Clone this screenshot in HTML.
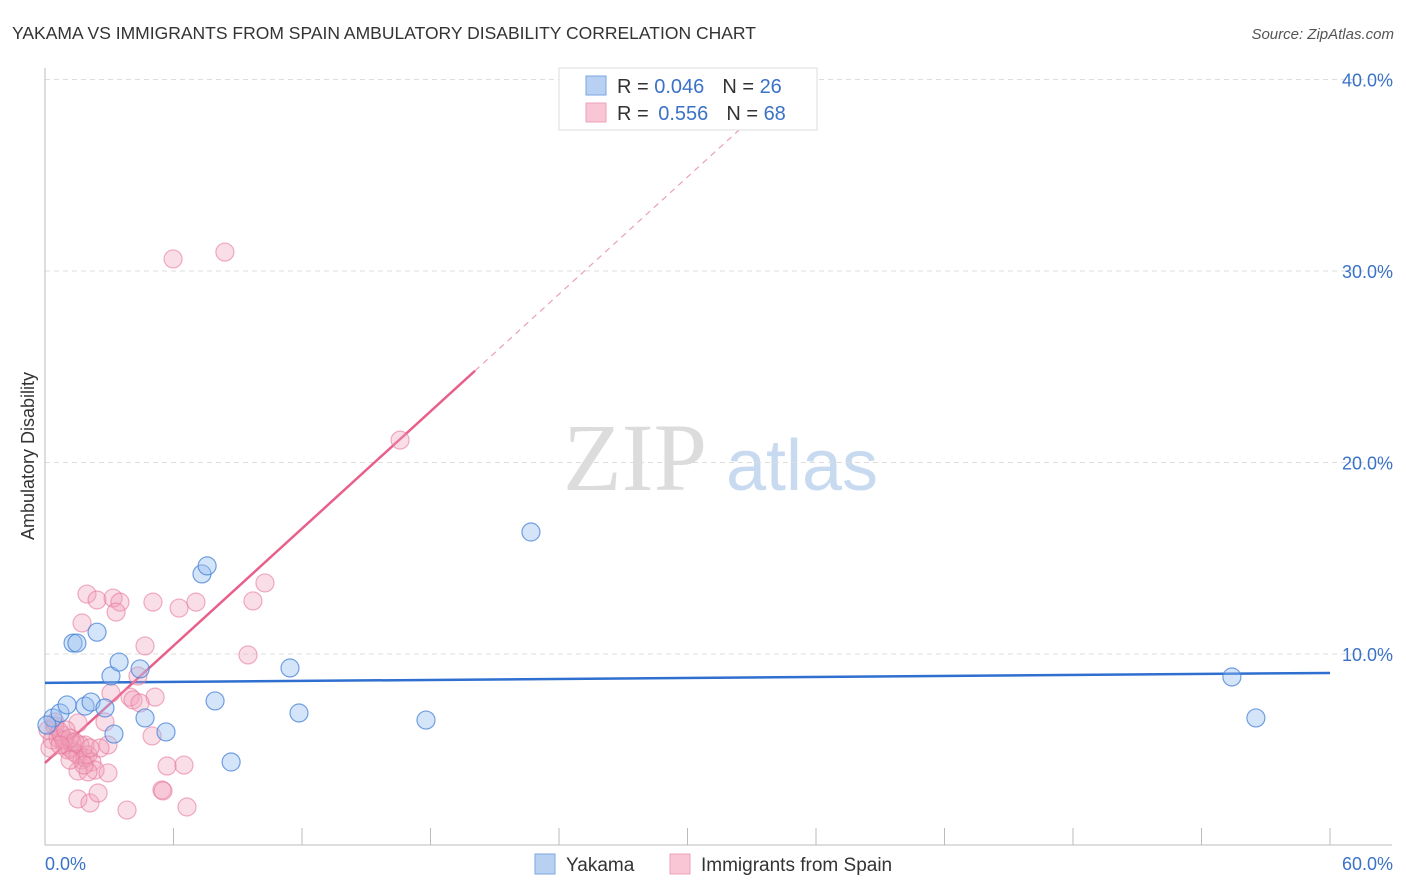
<!DOCTYPE html>
<html><head><meta charset="utf-8"><style>
body{margin:0;background:#fff;font-family:"Liberation Sans",sans-serif;}
svg{display:block}
</style></head><body>
<svg id="chart" width="1406" height="892">
<text x="12" y="39" font-size="17.5" fill="#333">YAKAMA VS IMMIGRANTS FROM SPAIN AMBULATORY DISABILITY CORRELATION CHART</text>
<text x="1394" y="39" font-size="15" fill="#555" font-style="italic" text-anchor="end">Source: ZipAtlas.com</text>
<text x="0" y="0" transform="translate(34,456) rotate(-90)" font-size="18" fill="#333" text-anchor="middle">Ambulatory Disability</text>
<g>
<text x="635" y="490" font-size="96" font-family="Liberation Serif,serif" fill="#dcdcdc" text-anchor="middle">ZIP</text>
<text x="802" y="490" font-size="72" fill="#c8daf0" text-anchor="middle">atlas</text>
</g>
<g id="grid"></g><g id="axes"></g><g id="lines"></g><g id="pts"></g>
<g>
<rect x="559" y="68" width="258" height="62" fill="#fff" stroke="#ddd"/>
<rect x="586" y="76" width="20" height="19" fill="#b8d1f3" stroke="#7aa6e0"/>
<text x="617" y="93" font-size="20" fill="#333">R = <tspan fill="#3a72c8">0.046</tspan><tspan dx="18">N = </tspan><tspan fill="#3a72c8">26</tspan></text>
<rect x="586" y="103" width="20" height="19" fill="#f8c6d4" stroke="#eea2b8"/>
<text x="617" y="120" font-size="20" fill="#333">R = <tspan fill="#3a72c8" dx="4">0.556</tspan><tspan dx="18">N = </tspan><tspan fill="#3a72c8">68</tspan></text>
</g>
<g>
<rect x="535" y="854" width="20" height="20" fill="#b8d1f3" stroke="#7aa6e0"/>
<text x="566" y="871" font-size="19" fill="#333">Yakama</text>
<rect x="670" y="854" width="20" height="20" fill="#f8c6d4" stroke="#eea2b8"/>
<text x="701" y="871" font-size="19" fill="#333">Immigrants from Spain</text>
</g>
<text x="45" y="870" font-size="18" fill="#3a72c8">0.0%</text>
<text x="1393" y="870" font-size="18" fill="#3a72c8" text-anchor="end">60.0%</text>
</svg>
<script>
const yTicks=[10,20,30,40];
const xTicks=[0,6,12,18,24,30,36,42,48,54,60];
const blueX=[0.37,0.70,1.03,1.31,1.49,1.87,2.15,2.43,2.80,3.08,3.22,3.46,4.44,4.67,5.65,7.33,7.57,7.94,8.69,11.44,11.86,17.79,22.69,55.42,56.54,0.09];
const blueY=[6.66,6.92,7.34,10.57,10.57,7.28,7.49,11.14,7.18,8.85,5.82,9.58,9.22,6.66,5.93,14.18,14.60,7.55,4.36,9.27,6.92,6.55,16.37,8.80,6.66,6.29];
const pinkX=[5.98,8.40,16.58,10.27,9.71,9.48,1.96,2.43,3.18,3.50,3.32,5.04,6.26,7.05,1.73,4.67,4.34,3.08,3.97,5.14,4.11,4.44,2.80,1.54,5.00,2.94,5.70,6.49,5.46,5.51,1.54,2.10,3.83,6.63,2.48,1.87,0.14,0.33,0.47,0.61,0.79,0.93,1.07,1.17,1.26,1.35,1.54,1.63,1.73,1.87,2.01,2.19,2.34,1.54,2.01,2.94,0.23,0.47,0.70,0.89,0.98,1.17,1.40,1.82,0.70,1.17,2.57,2.10];
const pinkY=[30.63,30.99,21.17,13.71,12.77,9.95,13.13,12.82,12.92,12.71,12.19,12.71,12.40,12.71,11.62,10.42,8.85,7.96,7.75,7.75,7.60,7.44,6.45,6.40,5.72,5.25,4.15,4.20,2.90,2.85,2.43,2.22,1.85,2.01,2.74,5.25,6.03,5.51,6.24,5.61,5.77,5.25,4.99,5.09,5.40,4.88,4.73,5.25,4.46,4.57,4.73,4.36,3.94,3.89,3.84,3.79,5.09,6.45,5.93,5.51,6.03,5.61,5.40,4.20,5.25,4.46,5.09,5.09];
const blueLine=[8.49,9.01];
const pinkLine=[4.31,1.02];
const NS="http://www.w3.org/2000/svg";
const sx=v=>45+v/60*1285, sy=v=>845.5-v*19.15;
function mk(p,t,a){const e=document.createElementNS(NS,t);for(const k in a)e.setAttribute(k,a[k]);document.getElementById(p).appendChild(e);return e;}
yTicks.forEach(t=>{
 const l=mk('grid','line',{x1:45,x2:1392,y1:sy(t),y2:sy(t),stroke:'#ddd','stroke-dasharray':'5,4'});
 
 
 const tx=mk('grid','text',{x:1393,y:sy(t)+7,'font-size':18,fill:'#3a72c8','text-anchor':'end'});
 tx.textContent=t.toFixed(1)+'%';
 
 
});
mk('axes','line',{x1:45,x2:45,y1:68,y2:845,stroke:'#bbb'});
mk('axes','line',{x1:45,x2:1392,y1:845,y2:845,stroke:'#bbb'});
xTicks.forEach(t=>{
 const l=mk('axes','line',{x1:sx(t),x2:sx(t),y1:828,y2:845,stroke:'#bbb'});
 
 
});
const bl=mk('lines','line',{x1:sx(0),y1:sy(blueLine[0]),x2:sx(60),y2:sy(blueLine[1]),stroke:'#2f6fd0','stroke-width':2.5});


const pf=x=>pinkLine[0]+pinkLine[1]*x;
const pl=mk('lines','line',{x1:sx(0),y1:sy(pf(0)),x2:sx(20.08),y2:sy(pf(20.08)),stroke:'#e8608a','stroke-width':2.5});


const pd=mk('lines','line',{x1:sx(20.08),y1:sy(pf(20.08)),x2:sx(34),y2:sy(pf(34)),stroke:'#eaa0b8','stroke-width':1.2,'stroke-dasharray':'6,5'});


pinkX.forEach((x,i)=>{
 const c=mk('pts','circle',{cx:sx(x),cy:sy(pinkY[i]),r:9,fill:'rgba(242,160,185,0.35)',stroke:'rgba(230,120,155,0.6)','stroke-width':1.2});
 
 
});
blueX.forEach((x,i)=>{
 const c=mk('pts','circle',{cx:sx(x),cy:sy(blueY[i]),r:9,fill:'rgba(150,190,240,0.4)',stroke:'rgba(70,130,215,0.75)','stroke-width':1.2});
 
 
});
</script>
</body></html>
